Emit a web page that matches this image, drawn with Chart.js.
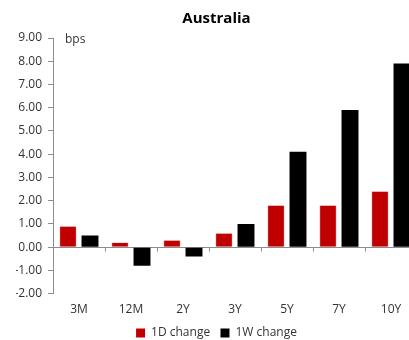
<!DOCTYPE html>
<html>
<head>
<meta charset="utf-8">
<script src="https://cdn.jsdelivr.net/npm/chart.js@4/dist/chart.umd.min.js"></script>
<style>
  html, body { margin: 0; padding: 0; background: #fff; overflow: hidden; }
  #wrap { width: 417px; height: 349px; position: relative; }
</style>
</head>
<body>
<div id="wrap"><canvas id="c"></canvas></div>
<script>
const categories = ['3M', '12M', '2Y', '3Y', '5Y', '7Y', '10Y'];
const change1D = [0.9, 0.2, 0.3, 0.6, 1.8, 1.8, 2.4];
const change1W = [0.5, -0.8, -0.4, 1.0, 4.1, 5.9, 7.9];
const yMin = -2, yMax = 9, yStep = 1;

const FONT = '"Open Sans", "Noto Sans", sans-serif';

// Zero baseline with small tick marks between categories, plus the unit label
const axisDecor = {
  id: 'axisDecor',
  beforeDatasetsDraw(chart) {
    const { ctx, chartArea, scales } = chart;
    const y0 = Math.round(scales.y.getPixelForValue(0)) + 0.5;
    ctx.save();
    ctx.strokeStyle = '#8c8c8c';
    ctx.lineWidth = 1;
    ctx.beginPath();
    ctx.moveTo(chartArea.left, y0);
    ctx.lineTo(chartArea.right, y0);
    const n = categories.length;
    for (let i = 1; i < n; i++) {
      const x = Math.round((scales.x.getPixelForValue(i - 1) + scales.x.getPixelForValue(i)) / 2) + 0.5;
      ctx.moveTo(x, y0);
      ctx.lineTo(x, y0 + 4);
    }
    ctx.stroke();
    ctx.fillStyle = '#333';
    ctx.font = '12px ' + FONT;
    ctx.textBaseline = 'middle';
    ctx.textAlign = 'left';
    ctx.fillText('bps', chartArea.left + 12, scales.y.getPixelForValue(9) + 2);
    ctx.restore();
  }
};

new Chart(document.getElementById('c'), {
  type: 'bar',
  data: {
    labels: categories,
    datasets: [
      { label: '1D change', data: change1D, backgroundColor: '#c00000', borderColor: '#e07a7a', borderWidth: 0.6 },
      { label: '1W change', data: change1W, backgroundColor: '#000000' }
    ]
  },
  options: {
    responsive: true,
    maintainAspectRatio: false,
    animation: false,
    devicePixelRatio: 1,
    datasets: { bar: { categoryPercentage: 0.846, barPercentage: 0.77 } },
    layout: { padding: { top: 10, right: 0, left: 16, bottom: 0 } },
    plugins: {
      title: {
        display: true,
        text: 'Australia',
        color: '#000',
        font: { family: FONT, size: 15, weight: 'bold' },
        padding: { top: 0, bottom: 10 }
      },
      legend: {
        position: 'bottom',
        labels: {
          boxWidth: 9, boxHeight: 9, padding: 1,
          color: '#333',
          font: { family: FONT, size: 12 },
          generateLabels(chart) {
            const items = Chart.defaults.plugins.legend.labels.generateLabels(chart);
            items.forEach((it, i) => {
              it.lineWidth = 0;
              if (i < items.length - 1) it.text = it.text + '   ';
            });
            return items;
          }
        }
      },
      tooltip: { enabled: false }
    },
    scales: {
      x: {
        grid: { display: false, drawTicks: false },
        border: { display: false },
        ticks: { color: '#333', font: { family: FONT, size: 12 }, padding: 9 }
      },
      y: {
        min: yMin, max: yMax,
        afterFit(scale) { scale.width = 37; },
        border: { display: true, color: '#8c8c8c' },
        grid: { drawOnChartArea: false, drawTicks: true, tickLength: 5, color: '#8c8c8c' },
        ticks: {
          stepSize: yStep,
          color: '#333',
          padding: 6,
          font: { family: FONT, size: 12 },
          callback: v => Number(v).toFixed(2)
        }
      }
    }
  },
  plugins: [axisDecor]
});
</script>
</body>
</html>
